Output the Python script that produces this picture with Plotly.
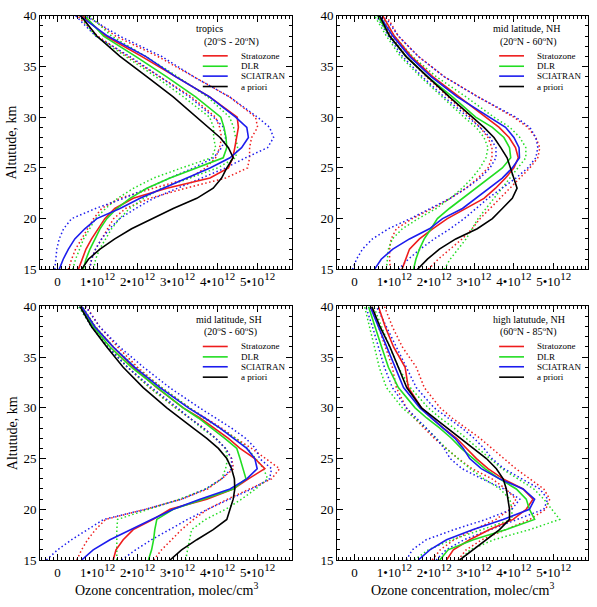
import plotly.graph_objects as go

# Altitude grid (km)
alt = [15, 16, 17, 18, 19, 20, 21, 22, 23, 24, 25, 26, 27, 28, 29, 30, 32, 34, 36, 38, 40]

# ---- Ozone concentration, units of 1e12 molec/cm3 ----
# Panel 1: tropics
trop_strat = [0.52, 0.61, 0.71, 0.85, 1.02, 1.18, 1.43, 1.89, 2.73, 3.81, 4.27, 4.38, 4.43, 4.48, 4.52, 4.49, 3.80, 2.95, 2.10, 1.20, 0.63]
trop_dlr = [0.64, 0.71, 0.81, 0.93, 1.06, 1.23, 1.48, 1.81, 2.23, 2.81, 3.48, 4.14, 4.23, 4.21, 4.16, 4.08, 3.45, 2.72, 1.95, 1.15, 0.68]
trop_scia = [0.04, 0.14, 0.27, 0.43, 0.68, 0.98, 1.56, 2.06, 2.64, 3.23, 3.81, 4.31, 4.60, 4.77, 4.73, 4.45, 3.80, 2.95, 2.20, 1.25, 0.56]
trop_apri = [0.60, 0.77, 1.06, 1.43, 1.85, 2.35, 2.89, 3.48, 3.89, 4.10, 4.23, 4.39, 4.27, 4.06, 3.77, 3.48, 2.89, 2.23, 1.56, 0.98, 0.58]
trop_strat_hi = [0.80, 0.85, 0.95, 1.10, 1.25, 1.40, 1.70, 2.30, 3.20, 4.20, 4.75, 4.80, 4.80, 4.85, 5.00, 4.95, 4.30, 3.40, 2.50, 1.45, 0.75]
trop_strat_lo = [0.27, 0.35, 0.45, 0.60, 0.75, 0.90, 1.10, 1.55, 2.40, 3.30, 3.70, 3.95, 4.05, 4.10, 4.05, 3.95, 3.35, 2.55, 1.75, 1.00, 0.50]
trop_dlr_hi = [0.90, 0.95, 1.05, 1.20, 1.35, 1.55, 1.80, 2.15, 2.60, 3.30, 4.00, 4.45, 4.50, 4.45, 4.40, 4.30, 3.75, 3.00, 2.20, 1.35, 0.80]
trop_dlr_lo = [0.38, 0.45, 0.55, 0.65, 0.80, 0.95, 1.20, 1.50, 1.90, 2.40, 3.10, 3.85, 3.95, 3.90, 3.90, 3.80, 3.15, 2.45, 1.70, 0.95, 0.55]
trop_scia_hi = [0.80, 0.85, 0.95, 1.10, 1.30, 1.55, 1.95, 2.40, 3.00, 3.60, 4.20, 4.70, 5.25, 5.40, 5.30, 5.00, 4.30, 3.40, 2.60, 1.55, 0.70]
trop_scia_lo = [-0.07, -0.05, -0.02, 0.04, 0.15, 0.35, 0.95, 1.65, 2.25, 2.80, 3.40, 3.90, 4.10, 4.20, 4.15, 3.90, 3.30, 2.55, 1.80, 0.95, 0.45]

# Panel 2: mid latitude, NH
nh_strat = [1.19, 1.28, 1.38, 1.63, 1.96, 2.33, 2.79, 3.25, 3.54, 3.79, 4.00, 4.11, 4.04, 3.88, 3.63, 3.29, 2.63, 1.96, 1.42, 1.00, 0.71]
nh_dlr = [1.48, 1.54, 1.63, 1.75, 1.92, 2.08, 2.38, 2.71, 3.04, 3.38, 3.71, 3.92, 3.89, 3.75, 3.46, 3.04, 2.46, 1.83, 1.29, 0.88, 0.58]
nh_scia = [0.50, 0.67, 0.96, 1.38, 1.88, 2.21, 2.71, 3.04, 3.38, 3.71, 3.96, 4.14, 4.13, 4.00, 3.79, 3.38, 2.58, 1.92, 1.38, 0.96, 0.63]
nh_apri = [1.58, 1.83, 2.13, 2.54, 3.08, 3.46, 3.71, 3.96, 4.08, 4.00, 3.92, 3.83, 3.67, 3.50, 3.25, 2.96, 2.38, 1.83, 1.29, 0.88, 0.63]
nh_strat_hi = [1.85, 2.10, 2.40, 2.70, 2.95, 3.15, 3.40, 3.65, 3.90, 4.15, 4.40, 4.60, 4.65, 4.55, 4.35, 4.00, 3.10, 2.25, 1.60, 1.10, 0.80]
nh_strat_lo = [0.90, 0.88, 0.88, 0.92, 1.05, 1.45, 1.95, 2.40, 2.80, 3.10, 3.35, 3.45, 3.45, 3.35, 3.15, 2.90, 2.35, 1.80, 1.30, 0.92, 0.62]
nh_dlr_hi = [2.25, 2.40, 2.60, 2.80, 2.95, 3.10, 3.30, 3.50, 3.70, 3.90, 4.10, 4.30, 4.30, 4.15, 3.90, 3.50, 2.80, 2.05, 1.45, 1.00, 0.68]
nh_dlr_lo = [0.80, 0.82, 0.85, 0.95, 1.20, 1.60, 2.05, 2.40, 2.70, 2.95, 3.15, 3.30, 3.35, 3.25, 3.05, 2.75, 2.20, 1.65, 1.15, 0.80, 0.50]
nh_scia_hi = [1.10, 1.35, 1.65, 2.00, 2.40, 2.75, 3.05, 3.35, 3.70, 4.05, 4.35, 4.55, 4.60, 4.55, 4.40, 4.05, 3.10, 2.25, 1.60, 1.10, 0.75]
nh_scia_lo = [-0.05, 0.05, 0.20, 0.45, 0.85, 1.40, 1.90, 2.40, 2.80, 3.15, 3.40, 3.55, 3.55, 3.40, 3.15, 2.85, 2.25, 1.70, 1.20, 0.85, 0.55]

# Panel 3: mid latitude, SH
sh_strat = [1.39, 1.46, 1.64, 1.89, 2.39, 2.81, 3.73, 4.39, 4.77, 5.18, 4.93, 4.56, 4.27, 3.93, 3.56, 3.14, 2.48, 1.89, 1.39, 0.93, 0.60]
sh_dlr = [2.27, 2.35, 2.40, 2.43, 2.48, 2.89, 3.64, 4.39, 4.71, 4.64, 4.56, 4.48, 4.18, 3.85, 3.52, 3.14, 2.48, 1.85, 1.31, 0.89, 0.56]
sh_scia = [0.60, 0.89, 1.31, 1.81, 2.35, 2.89, 3.56, 4.31, 4.73, 4.99, 4.93, 4.73, 4.39, 4.06, 3.68, 3.27, 2.56, 1.93, 1.39, 0.93, 0.60]
sh_apri = [2.81, 3.10, 3.48, 3.89, 4.23, 4.31, 4.39, 4.43, 4.42, 4.35, 4.23, 4.02, 3.73, 3.39, 3.06, 2.73, 2.14, 1.64, 1.23, 0.85, 0.56]
sh_strat_hi = [2.40, 2.60, 2.85, 3.10, 3.40, 3.75, 4.25, 4.80, 5.35, 5.55, 5.20, 4.85, 4.45, 4.10, 3.70, 3.30, 2.60, 2.00, 1.50, 1.05, 0.72]
sh_strat_lo = [0.48, 0.60, 0.75, 0.95, 1.20, 2.20, 3.10, 3.75, 4.10, 4.40, 4.35, 4.20, 3.95, 3.65, 3.30, 2.95, 2.30, 1.75, 1.30, 0.85, 0.55]
sh_dlr_hi = [3.20, 3.25, 3.30, 3.35, 3.70, 4.20, 4.60, 4.95, 5.25, 5.15, 4.95, 4.75, 4.45, 4.05, 3.65, 3.30, 2.60, 1.95, 1.40, 0.95, 0.62]
sh_dlr_lo = [1.48, 1.48, 1.48, 1.48, 1.50, 2.30, 3.05, 3.70, 4.10, 4.20, 4.25, 4.20, 3.95, 3.60, 3.30, 2.95, 2.30, 1.75, 1.25, 0.85, 0.52]
sh_scia_hi = [1.60, 1.95, 2.35, 2.80, 3.25, 3.75, 4.30, 4.85, 5.30, 5.35, 5.05, 4.95, 4.70, 4.35, 3.95, 3.55, 2.80, 2.15, 1.55, 1.05, 0.70]
sh_scia_lo = [-0.28, 0.00, 0.35, 0.75, 1.15, 2.20, 3.10, 3.70, 4.10, 4.35, 4.35, 4.20, 3.95, 3.65, 3.30, 3.00, 2.35, 1.75, 1.25, 0.85, 0.55]

# Panel 4: high latitude, NH
hi_strat = [2.31, 2.48, 2.89, 3.39, 3.98, 4.31, 4.48, 4.23, 3.73, 3.35, 3.06, 2.81, 2.56, 2.23, 1.93, 1.68, 1.35, 1.27, 0.98, 0.77, 0.60]
hi_dlr = [2.14, 2.35, 2.98, 3.81, 4.52, 4.39, 4.31, 4.06, 3.64, 3.27, 2.98, 2.68, 2.43, 2.14, 1.81, 1.52, 1.10, 0.85, 0.68, 0.52, 0.35]
hi_scia = [1.60, 1.89, 2.31, 2.98, 3.73, 4.39, 4.52, 4.23, 3.64, 3.18, 2.89, 2.73, 2.52, 2.23, 1.93, 1.64, 1.23, 1.02, 0.81, 0.60, 0.39]
hi_apri = [2.64, 2.98, 3.31, 3.64, 3.89, 3.89, 3.85, 3.81, 3.73, 3.56, 3.31, 2.98, 2.64, 2.31, 1.98, 1.68, 1.31, 1.10, 0.89, 0.64, 0.43]
hi_strat_hi = [2.60, 2.80, 3.20, 3.80, 4.40, 4.80, 4.90, 4.75, 4.40, 4.05, 3.75, 3.45, 3.15, 2.80, 2.45, 2.15, 1.75, 1.55, 1.20, 0.95, 0.75]
hi_strat_lo = [1.95, 2.15, 2.50, 3.00, 3.55, 3.90, 4.05, 3.80, 3.45, 2.95, 2.60, 2.30, 2.00, 1.75, 1.50, 1.30, 1.05, 0.95, 0.78, 0.60, 0.45]
hi_dlr_hi = [2.65, 2.90, 3.50, 4.40, 5.15, 4.95, 4.75, 4.50, 4.10, 3.70, 3.40, 3.10, 2.80, 2.50, 2.15, 1.85, 1.40, 1.10, 0.88, 0.68, 0.48]
hi_dlr_lo = [1.50, 1.85, 2.45, 3.20, 3.95, 3.95, 3.90, 3.65, 3.25, 2.90, 2.60, 2.30, 2.05, 1.80, 1.50, 1.20, 0.80, 0.62, 0.50, 0.38, 0.25]
hi_scia_hi = [2.05, 2.30, 2.75, 3.40, 4.10, 4.75, 4.85, 4.65, 4.20, 3.75, 3.45, 3.25, 3.00, 2.70, 2.35, 2.00, 1.55, 1.30, 1.05, 0.80, 0.55]
hi_scia_lo = [1.30, 1.45, 1.80, 2.50, 3.30, 3.95, 4.15, 3.75, 3.20, 2.70, 2.40, 2.25, 2.05, 1.80, 1.55, 1.30, 0.95, 0.75, 0.60, 0.45, 0.28]

panel_titles = [("tropics", "(20<sup>o</sup>S - 20<sup>o</sup>N)"),
                ("mid latitude, NH", "(20<sup>o</sup>N - 60<sup>o</sup>N)"),
                ("mid latitude, SH", "(20<sup>o</sup>S - 60<sup>o</sup>S)"),
                ("high latutude, NH", "(60<sup>o</sup>N - 85<sup>o</sup>N)")]
series_names = ["Stratozone", "DLR", "SCIATRAN", "a priori"]
colors = ["#ee1c1c", "#22dd22", "#1c1cee", "#000000"]

x_tickvals = [0, 1, 2, 3, 4, 5]
x_ticktext = ["0"] + [f"{k}•10<sup><span style='font-size:11px'>12</span></sup>" for k in range(1, 6)]
y_tickvals = [15, 20, 25, 30, 35, 40]

panels = [
    dict(solid=[trop_strat, trop_dlr, trop_scia, trop_apri],
         dotted=[(trop_strat_hi, trop_strat_lo), (trop_dlr_hi, trop_dlr_lo), (trop_scia_hi, trop_scia_lo)]),
    dict(solid=[nh_strat, nh_dlr, nh_scia, nh_apri],
         dotted=[(nh_strat_hi, nh_strat_lo), (nh_dlr_hi, nh_dlr_lo), (nh_scia_hi, nh_scia_lo)]),
    dict(solid=[sh_strat, sh_dlr, sh_scia, sh_apri],
         dotted=[(sh_strat_hi, sh_strat_lo), (sh_dlr_hi, sh_dlr_lo), (sh_scia_hi, sh_scia_lo)]),
    dict(solid=[hi_strat, hi_dlr, hi_scia, hi_apri],
         dotted=[(hi_strat_hi, hi_strat_lo), (hi_dlr_hi, hi_dlr_lo), (hi_scia_hi, hi_scia_lo)]),
]

W, H = 597, 607
# panel pixel boxes: (left, right, top, bottom)
boxes = [(40, 292, 9, 269), (337, 588, 9, 269), (40, 292, 307, 567), (337, 588, 307, 567)]

FONT = '"Liberation Serif", "Times New Roman", Times, serif'
fig = go.Figure()
layout = dict(width=W, height=H, margin=dict(l=0, r=0, t=0, b=0),
              paper_bgcolor="white", plot_bgcolor="white", showlegend=False,
              font=dict(family=FONT, color="black"))
annotations = []
shapes = []

for i, p in enumerate(panels):
    n = i + 1
    xa = "x" if n == 1 else f"x{n}"
    ya = "y" if n == 1 else f"y{n}"
    for c, (hi, lo) in enumerate(p["dotted"]):
        for arr in (hi, lo):
            fig.add_trace(go.Scatter(x=arr, y=alt, mode="lines", xaxis=xa, yaxis=ya,
                                     line=dict(color=colors[c], width=1.5, dash="1.5px,2.5px"),
                                     hoverinfo="skip"))
    for c, arr in enumerate(p["solid"]):
        fig.add_trace(go.Scatter(x=arr, y=alt, mode="lines", xaxis=xa, yaxis=ya,
                                 name=series_names[c],
                                 line=dict(color=colors[c], width=1.6)))
    l, r, t, b = boxes[i]
    xdom = [l / W, r / W]
    ydom = [1 - b / H, 1 - t / H]
    xkey = "xaxis" if n == 1 else f"xaxis{n}"
    ykey = "yaxis" if n == 1 else f"yaxis{n}"
    layout[xkey] = dict(domain=xdom, anchor=ya, range=[-0.44, 5.86],
                        tickvals=x_tickvals, ticktext=x_ticktext,
                        ticks="inside", ticklen=6, tickcolor="black",
                        showline=True, linecolor="black", linewidth=1, mirror="ticks",
                        showgrid=False, zeroline=False,
                        tickfont=dict(family=FONT, size=13, color="black"),
                        minor=dict(dtick=0.1, tick0=0, ticks="inside", ticklen=3,
                                   tickcolor="black", showgrid=False))
    layout[ykey] = dict(domain=ydom, anchor=xa, range=[15, 40],
                        tickvals=y_tickvals,
                        ticks="inside", ticklen=6, tickcolor="black",
                        showline=True, linecolor="black", linewidth=1, mirror="ticks",
                        showgrid=False, zeroline=False,
                        tickfont=dict(family=FONT, size=13, color="black"),
                        minor=dict(dtick=1, tick0=15, ticks="inside", ticklen=3,
                                   tickcolor="black", showgrid=False))
    xd = f"{xa} domain"
    yd = f"{ya} domain"
    t1, t2 = panel_titles[i]
    annotations.append(dict(text=t1, xref=xd, yref=yd, x=0.612, y=0.948,
                            xanchor="left", yanchor="middle", showarrow=False,
                            font=dict(family=FONT, size=10)))
    annotations.append(dict(text=t2, xref=xd, yref=yd, x=0.643, y=0.900,
                            xanchor="left", yanchor="middle", showarrow=False,
                            font=dict(family=FONT, size=10)))
    rows = [0.842, 0.801, 0.762, 0.721]
    for c in range(4):
        shapes.append(dict(type="line", xref=xd, yref=yd, x0=0.646, x1=0.745,
                           y0=rows[c], y1=rows[c], line=dict(color=colors[c], width=1.6)))
        annotations.append(dict(text=series_names[c], xref=xd, yref=yd, x=0.79, y=rows[c],
                                xanchor="left", yanchor="middle", showarrow=False,
                                font=dict(family=FONT, size=9)))

# axis titles
for yc in [(269 + 9) / 2, (567 + 307) / 2]:
    annotations.append(dict(text="Altutude, km", xref="paper", yref="paper",
                            x=12 / W, y=1 - yc / H, textangle=-90, showarrow=False,
                            xanchor="center", yanchor="middle",
                            font=dict(family=FONT, size=14)))
for xc in [(40 + 292) / 2, (337 + 588) / 2]:
    annotations.append(dict(text="Ozone concentration, molec/cm<sup>3</sup>", xref="paper", yref="paper",
                            x=xc / W, y=1 - 597 / H, showarrow=False,
                            xanchor="center", yanchor="middle",
                            font=dict(family=FONT, size=14)))

layout["annotations"] = annotations
layout["shapes"] = shapes
fig.update_layout(**layout)
fig.write_html("out.html")
